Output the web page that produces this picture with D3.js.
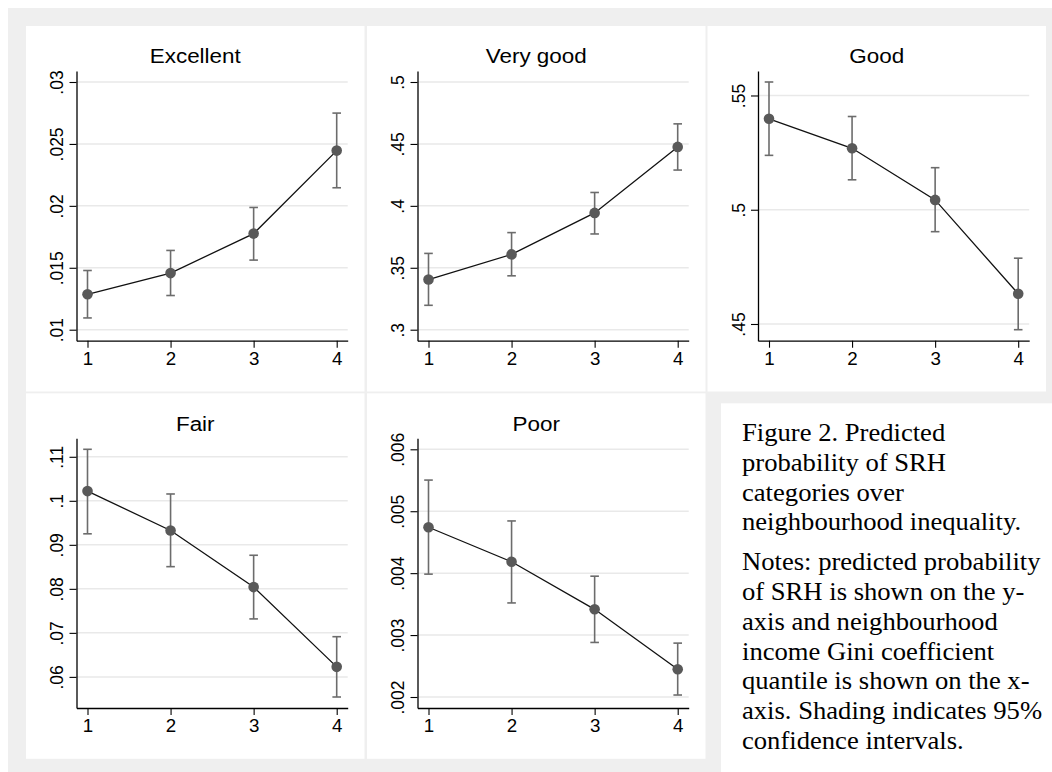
<!DOCTYPE html>
<html>
<head>
<meta charset="utf-8">
<title>Predicted probability of SRH</title>
<script src="https://d3js.org/d3.v7.min.js"></script>
<style>
  body { margin: 0; background: #fff; }
  svg { display: block; }
</style>
</head>
<body>
<div id="chart"></div>
<script>
// data: estimate and 95% CI per Gini quantile
const quantiles = [1, 2, 3, 4];

const estExcellent = [0.01286, 0.01457, 0.01776, 0.02446];
const lowExcellent = [0.01095, 0.01276, 0.01562, 0.02146];
const highExcellent = [0.01478, 0.01640, 0.01987, 0.02749];
const ticksExcellent = [0.01, 0.015, 0.02, 0.025, 0.03];
const labelsExcellent = ['.01', '.015', '.02', '.025', '.03'];

const estVeryGood = [0.3405, 0.3608, 0.3943, 0.4476];
const lowVeryGood = [0.3197, 0.3435, 0.3773, 0.4289];
const highVeryGood = [0.3616, 0.3784, 0.4108, 0.4662];
const ticksVeryGood = [0.3, 0.35, 0.4, 0.45, 0.5];
const labelsVeryGood = ['.3', '.35', '.4', '.45', '.5'];

const estGood = [0.5398, 0.5269, 0.5043, 0.4632];
const lowGood = [0.5238, 0.5131, 0.4904, 0.4475];
const highGood = [0.5559, 0.5408, 0.5184, 0.4788];
const ticksGood = [0.45, 0.5, 0.55];
const labelsGood = ['.45', '.5', '.55'];

const estFair = [0.1022, 0.09326, 0.0804, 0.06228];
const lowFair = [0.0925, 0.08504, 0.07317, 0.05543];
const highFair = [0.1117, 0.10155, 0.08763, 0.06913];
const ticksFair = [0.06, 0.07, 0.08, 0.09, 0.1, 0.11];
const labelsFair = ['.06', '.07', '.08', '.09', '.1', '.11'];

const estPoor = [0.004741, 0.004184, 0.003416, 0.002449];
const lowPoor = [0.003984, 0.003519, 0.002881, 0.002032];
const highPoor = [0.005503, 0.004843, 0.003951, 0.00287];
const ticksPoor = [0.002, 0.003, 0.004, 0.005, 0.006];
const labelsPoor = ['.002', '.003', '.004', '.005', '.006'];

const titles = ['Excellent', 'Very good', 'Good', 'Fair', 'Poor'];

const captionTitle = ['Figure 2. Predicted', 'probability of SRH', 'categories over',
  'neighbourhood inequality.'];
const captionNotes = ['Notes: predicted probability', 'of SRH is shown on the y-',
  'axis and neighbourhood', 'income Gini coefficient', 'quantile is shown on the x-',
  'axis. Shading indicates 95%', 'confidence intervals.'];

const panels = [
  { est: estExcellent, low: lowExcellent, high: highExcellent, ticks: ticksExcellent, labels: labelsExcellent },
  { est: estVeryGood, low: lowVeryGood, high: highVeryGood, ticks: ticksVeryGood, labels: labelsVeryGood },
  { est: estGood, low: lowGood, high: highGood, ticks: ticksGood, labels: labelsGood },
  { est: estFair, low: lowFair, high: highFair, ticks: ticksFair, labels: labelsFair },
  { est: estPoor, low: lowPoor, high: highPoor, ticks: ticksPoor, labels: labelsPoor }
];
panels.forEach((p, i) => p.title = titles[i]);

const W = 1052, H = 772;
const svg = d3.select('#chart').append('svg').attr('width', W).attr('height', H);

// grey frame of the combined graph
svg.append('rect').attr('x', 8).attr('y', 8).attr('width', W).attr('height', H).attr('fill', '#efefef');

const colX = [26, 367, 707.5], rowY = [26, 393.3];
const panelW = 338.5, panelH = 365.5;
const plot = { left: 50.5, right: 321.7, top: 45, bottom: 314.7 };
const pad = 11;
const sx = 1.07; // the source picture is a bit wider than tall

panels.forEach((p, i) => {
  const g = svg.append('g')
    .attr('transform', `translate(${colX[i % 3]},${rowY[Math.floor(i / 3)]})`);
  g.append('rect').attr('width', panelW).attr('height', panelH).attr('fill', '#fff');

  const lo = Math.min(p.ticks[0], d3.min(p.low));
  const hi = Math.max(p.ticks[p.ticks.length - 1], d3.max(p.high));
  const y = d3.scaleLinear().domain([lo, hi]).range([plot.bottom - pad, plot.top + pad]);
  y.domain([y.invert(plot.bottom), y.invert(plot.top)]).range([plot.bottom, plot.top]);
  const x = d3.scaleLinear().domain([1, 4]).range([plot.left + pad, plot.right - pad]);
  x.domain([x.invert(plot.left), x.invert(plot.right)]).range([plot.left, plot.right]);

  // gridlines
  g.append('g').selectAll('line').data(p.ticks).join('line')
    .attr('x1', plot.left).attr('x2', plot.right)
    .attr('y1', d => y(d)).attr('y2', d => y(d))
    .attr('stroke', '#e9e9e9').attr('stroke-width', 1.5);

  const pts = quantiles.map((q, k) => ({ q: q, est: p.est[k], low: p.low[k], high: p.high[k] }));

  // confidence intervals
  const ci = g.append('g').attr('stroke', '#6c6c6c').attr('stroke-width', 1.6);
  ci.selectAll('.bar').data(pts).join('line').attr('class', 'bar')
    .attr('x1', d => x(d.q)).attr('x2', d => x(d.q))
    .attr('y1', d => y(d.low)).attr('y2', d => y(d.high));
  ci.selectAll('.capHi').data(pts).join('line').attr('class', 'capHi')
    .attr('x1', d => x(d.q) - 4.3).attr('x2', d => x(d.q) + 4.3)
    .attr('y1', d => y(d.high)).attr('y2', d => y(d.high));
  ci.selectAll('.capLo').data(pts).join('line').attr('class', 'capLo')
    .attr('x1', d => x(d.q) - 4.3).attr('x2', d => x(d.q) + 4.3)
    .attr('y1', d => y(d.low)).attr('y2', d => y(d.low));

  g.append('path').datum(pts)
    .attr('fill', 'none').attr('stroke', '#111').attr('stroke-width', 1.3)
    .attr('d', d3.line().x(d => x(d.q)).y(d => y(d.est)));

  g.append('g').selectAll('circle').data(pts).join('circle')
    .attr('cx', d => x(d.q)).attr('cy', d => y(d.est)).attr('r', 5.3)
    .attr('fill', '#595959');

  // axes
  const yAxisG = g.append('g').attr('transform', `translate(${plot.left},0)`)
    .call(d3.axisLeft(y).tickValues(p.ticks).tickFormat((d, k) => p.labels[k])
      .tickSizeInner(7).tickSizeOuter(0));
  const xAxisG = g.append('g').attr('transform', `translate(0,${plot.bottom})`)
    .call(d3.axisBottom(x).tickValues(quantiles).tickFormat(d3.format('d'))
      .tickSizeInner(7).tickSizeOuter(0));

  [yAxisG, xAxisG].forEach(a => {
    a.select('.domain').attr('stroke', '#000').attr('stroke-width', 1.3);
    a.selectAll('.tick line').attr('stroke', '#000').attr('stroke-width', 1.1);
    a.selectAll('.tick text').attr('fill', '#000')
      .style('font-family', 'Arial, "Liberation Sans", Helvetica, sans-serif')
      .style('font-size', '17.5px');
  });
  yAxisG.selectAll('.tick text')
    .attr('x', null).attr('dy', null)
    .attr('text-anchor', 'middle')
    .attr('transform', 'translate(-13.2,0) rotate(-90)');
  xAxisG.selectAll('.tick text')
    .attr('y', null).attr('dy', null)
    .attr('transform', `translate(0,24.3) scale(${sx},1)`);

  g.append('text')
    .attr('transform', `translate(${panelW / 2},37.3) scale(${sx},1)`)
    .attr('text-anchor', 'middle')
    .style('font-family', 'Arial, "Liberation Sans", Helvetica, sans-serif')
    .style('font-size', '21px')
    .attr('fill', '#000')
    .text(p.title);
});

// caption box pasted over the empty sixth cell
const cap = svg.append('g').attr('transform', 'translate(721,403.3)');
cap.append('rect').attr('width', W - 721).attr('height', H - 403.3).attr('fill', '#fff');
const lineH = 29.7;
const captionLines = captionTitle.map((t, k) => ({ t: t, y: 38 + k * lineH }))
  .concat(captionNotes.map((t, k) => ({ t: t, y: 38 + 3 * lineH + 40 + k * lineH })));
cap.selectAll('text').data(captionLines).join('text')
  .attr('transform', d => `translate(21,${d.y}) scale(1.065,1)`)
  .style('font-family', '"Times New Roman", "Liberation Serif", serif')
  .style('font-size', '25px')
  .attr('fill', '#000')
  .text(d => d.t);
</script>
</body>
</html>
